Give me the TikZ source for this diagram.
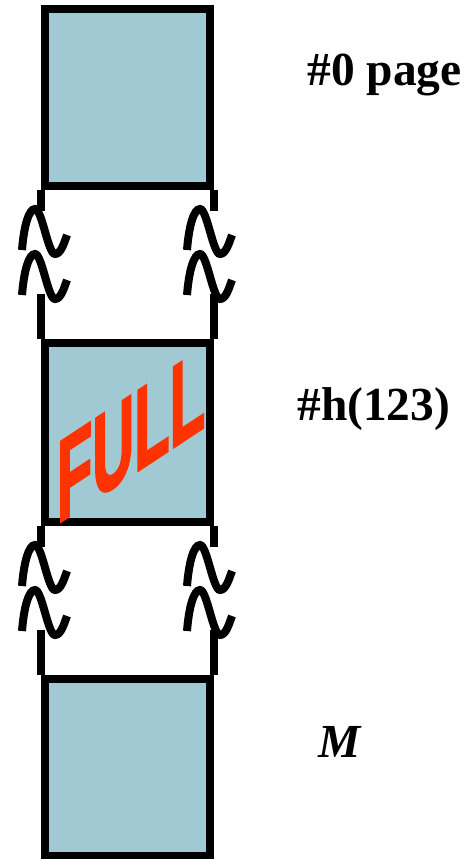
\documentclass[tikz,border=0pt]{standalone}
\usepackage{fontspec}
\setmainfont{Liberation Serif}
\newfontfamily\fullfont{Liberation Sans Bold}[FakeBold=2.5]
\usepackage{tikz}

\definecolor{pagefill}{RGB}{161,201,211}
\definecolor{fullred}{RGB}{255,51,0}

\tikzset{
  wiggle/.pic={
    \draw[brk] (-23,19) .. controls (-21,-6) and (-16,-22) .. (-10,-22)
      .. controls (-3,-22) and (3,23) .. (10,23)
      .. controls (16,23) and (19,12) .. (22,4);
  }
}

\begin{document}
\begin{tikzpicture}[x=0.02cm, y=-0.02cm,
    page/.style={draw=black, line width=0.16cm, fill=pagefill, minimum width=3.3cm, inner sep=0pt},
    wall/.style={draw=black, line width=0.16cm},
    brk/.style={draw=black, line width=0.16cm},
    lbl/.style={font=\fontsize{27}{30}\selectfont\bfseries, inner sep=0pt, anchor=base west}]
  \useasboundingbox (0,0) rectangle (469,859);

  % the three pages
  \node[page, minimum height=3.54cm] (page0) at (127.5,97.5) {};
  \node[page, minimum height=3.58cm] (pageh) at (127.5,432.5) {};
  \node[page, minimum height=3.54cm] (pageM) at (127.5,767.5) {};

  % walls of the skipped parts
  \draw[wall] (page0.south west) -- ++(0,21);
  \draw[wall] (page0.south east) -- ++(0,21);
  \draw[wall] (pageh.north west) -- ++(0,-45);
  \draw[wall] (pageh.north east) -- ++(0,-45);
  \draw[wall] (pageh.south west) -- ++(0,21);
  \draw[wall] (pageh.south east) -- ++(0,21);
  \draw[wall] (pageM.north west) -- ++(0,-45);
  \draw[wall] (pageM.north east) -- ++(0,-45);

  % break marks
  \foreach \y in {231,276,567,612} {
    \pic at (45,\y) {wiggle};
    \pic at (210,\y) {wiggle};
  }

  \node[font=\fullfont\fontsize{33}{33}\selectfont, text=fullred, inner sep=0pt,
        yslant=0.66, yscale=2.0, transform shape] (full) at (131,436) {FULL};

  \node[lbl] (lab0) at (307,85) {\#0 page};
  \node[lbl] (labh) at (297,420) {\#h(123)};
  \node[lbl] (labM) at (318,757) {\textit{M}};
\end{tikzpicture}
\end{document}
